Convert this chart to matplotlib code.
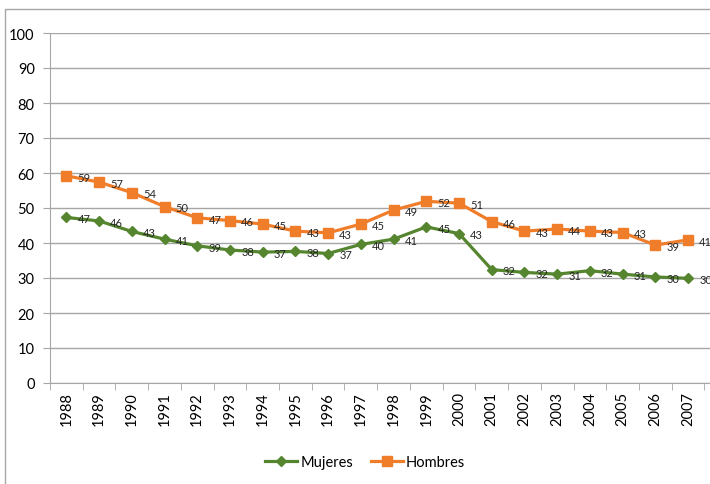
import matplotlib.pyplot as plt
from matplotlib.lines import Line2D

years = [str(y) for y in range(1988, 2008)]
mujeres = [47.3, 46.3, 43.3, 41.1, 39.2, 38.0, 37.4, 37.6, 37.0, 39.6,
           41.1, 44.6, 42.7, 32.4, 31.6, 31.1, 32.1, 31.1, 30.3, 29.9]
hombres = [59.2, 57.4, 54.4, 50.4, 47.2, 46.4, 45.4, 43.4, 42.9, 45.4,
           49.4, 51.9, 51.4, 46.1, 43.4, 44.0, 43.4, 43.0, 39.4, 40.9]

verde = '#55862f'
naranja = '#f07d2a'
gris = '#a6a6a6'
fuente = ['Lato', 'DejaVu Sans']

plt.rcParams['font.family'] = fuente

fig = plt.figure(figsize=(7.1, 4.85), dpi=100)
ax = fig.add_axes([50 / 710, 101 / 485, 660 / 710, 350 / 485])

x = range(len(years))
ax.plot(x, mujeres, color=verde, lw=2.3, marker='D', ms=5.5,
        label='Mujeres', zorder=3)
ax.plot(x, hombres, color=naranja, lw=2.3, marker='s', ms=7.5,
        label='Hombres', zorder=3)

# etiquetas de valor a la derecha de cada punto
for serie in (mujeres, hombres):
    for i, v in enumerate(serie):
        ax.annotate(f'{v:.0f}', (i, v), xytext=(8, -1), textcoords='offset points',
                    ha='left', va='center', fontsize=8, color='#262626',
                    annotation_clip=False, zorder=4)

ax.set_xlim(-0.5, 19.67)
ax.set_ylim(0, 100)
ax.set_yticks(range(0, 101, 10))
ax.yaxis.grid(True, color=gris, lw=1)
ax.set_axisbelow(True)

ax.set_xticks(x)
ax.set_xticklabels(years, rotation=90)
ax.set_xticks([i - 0.5 for i in range(len(years) + 1)], minor=True)
ax.tick_params(axis='x', which='major', length=0, pad=6, labelsize=10.5)
ax.tick_params(axis='x', which='minor', length=5, color=gris)
ax.tick_params(axis='y', length=5, color=gris, labelsize=10.5, pad=6)

for lado in ('top', 'right'):
    ax.spines[lado].set_visible(False)
ax.spines['left'].set_color(gris)
ax.spines['bottom'].set_color(gris)

ax.legend(loc='center', bbox_to_anchor=(365 / 710, 22 / 485),
          bbox_transform=fig.transFigure, ncol=2, frameon=False,
          fontsize=10.5, handlelength=2.2, handletextpad=0.2, columnspacing=1.2)

# marco exterior del gráfico
fig.add_artist(Line2D([5 / 710, 5 / 710, 1.0], [0, 475 / 485, 475 / 485],
                      transform=fig.transFigure, color=gris, lw=1))

fig.savefig('out.png', dpi=100)
